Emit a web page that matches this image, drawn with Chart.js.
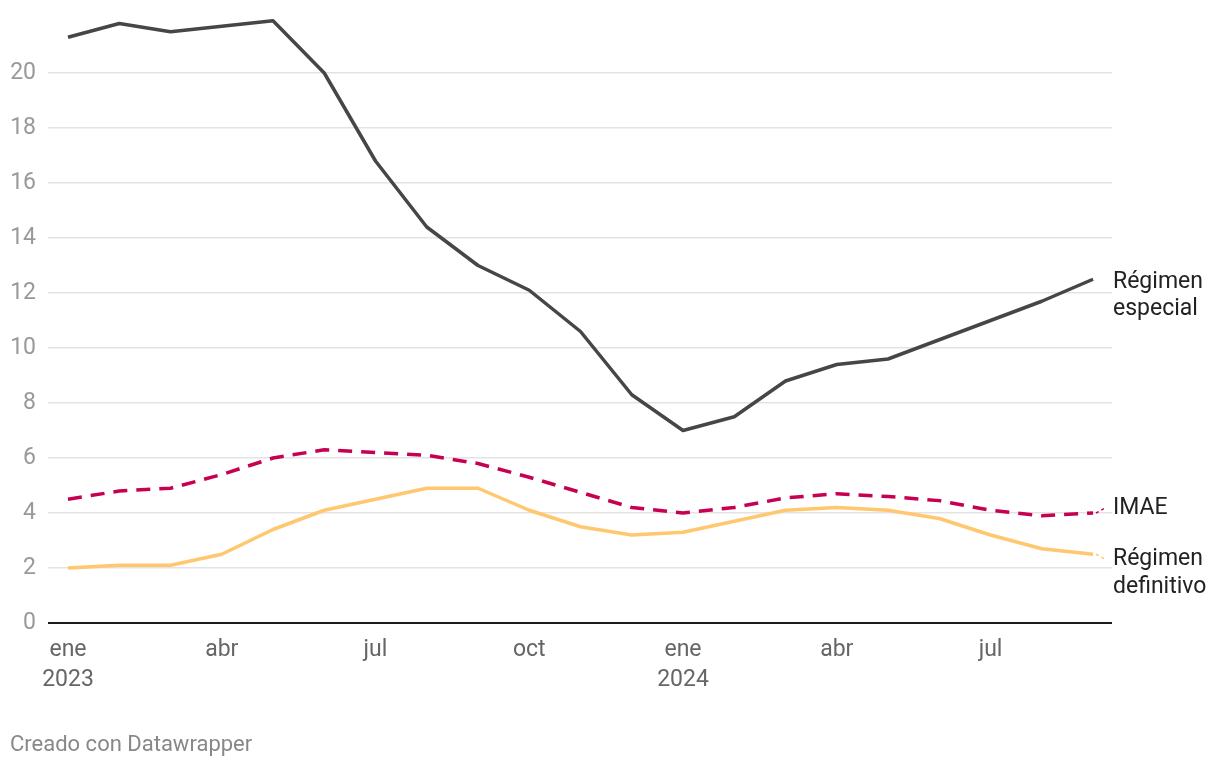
<!DOCTYPE html>
<html><head><meta charset="utf-8">
<script src="https://cdn.jsdelivr.net/npm/chart.js@4/dist/chart.umd.min.js"></script>
<style>html,body{margin:0;padding:0;background:#fff;}</style>
</head>
<body>
<div style="width:1220px;height:768px;position:relative;"><canvas id="c" width="1220" height="768"></canvas></div>
<script>
const months = ['ene 2023','feb','mar','abr','may','jun','jul','ago','sep','oct','nov','dic','ene 2024','feb','mar','abr','may','jun','jul','ago','sep'];
const especial = [21.3,21.8,21.5,21.7,21.9,20.0,16.8,14.4,13.0,12.1,10.6,8.3,7.0,7.5,8.8,9.4,9.6,10.3,11.0,11.7,12.5];
const imae = [4.5,4.8,4.9,5.4,6.0,6.3,6.2,6.1,5.8,5.3,4.75,4.2,4.0,4.2,4.55,4.7,4.6,4.45,4.1,3.9,4.0];
const definitivo = [2.0,2.1,2.1,2.5,3.4,4.1,4.5,4.9,4.9,4.1,3.5,3.2,3.3,3.7,4.1,4.2,4.1,3.8,3.2,2.7,2.5];
const xTickIdx = [0,3,6,9,12,15,18];
const xTickLabels = [['ene','2023'],'abr','jul','oct',['ene','2024'],'abr','jul'];
const yTickValues = [0,2,4,6,8,10,12,14,16,18,20];
const seriesNames = [['Régimen','especial'],['IMAE'],['Régimen','definitivo']];
const sourceText = 'Creado con Datawrapper';

const FONT = 'Roboto, "Noto Sans", sans-serif';
const toPts = arr => arr.map((v,i)=>({x:i,y:v}));

const labelPlugin = {
  id:'endLabels',
  afterDatasetsDraw(chart){
    const ctx = chart.ctx;
    const ys = chart.scales.y, xs = chart.scales.x;
    const last = months.length-1;
    const px = xs.getPixelForValue(last);
    ctx.save();
    ctx.font = '23px ' + FONT;
    ctx.fillStyle = '#222';
    ctx.textBaseline = 'middle';
    ctx.textAlign = 'left';
    const lx = chart.chartArea.right + 1;
    // especial
    let py = ys.getPixelForValue(especial[last]);
    ctx.fillText(seriesNames[0][0], lx, py+3);
    ctx.fillText(seriesNames[0][1], lx, py+30);
    // imae
    py = ys.getPixelForValue(imae[last]);
    ctx.fillText(seriesNames[1][0], lx, py-5);
    ctx.strokeStyle = '#c70052'; ctx.lineWidth = 1.5; ctx.setLineDash([3,3]);
    ctx.beginPath(); ctx.moveTo(px+3, py); ctx.lineTo(px+12, py-5); ctx.stroke();
    // definitivo
    py = ys.getPixelForValue(definitivo[last]);
    ctx.fillText(seriesNames[2][0], lx, py+5);
    ctx.fillText(seriesNames[2][1], lx, py+33);
    ctx.strokeStyle = '#ffc76e';
    ctx.beginPath(); ctx.moveTo(px+3, py); ctx.lineTo(px+12, py+5); ctx.stroke();
    ctx.setLineDash([]);
    // baseline
    const y0 = ys.getPixelForValue(0);
    ctx.strokeStyle = '#1a1a1a'; ctx.lineWidth = 2;
    ctx.beginPath(); ctx.moveTo(chart.chartArea.left, y0); ctx.lineTo(chart.chartArea.right, y0); ctx.stroke();
    // source
    ctx.font = '22px ' + FONT;
    ctx.fillStyle = '#888';
    ctx.fillText(sourceText, 10, 745);
    ctx.restore();
  }
};

new Chart(document.getElementById('c'), {
  type:'line',
  data:{
    datasets:[
      {label:'Régimen especial', data:toPts(especial), borderColor:'#464646', borderWidth:3.5, pointRadius:0, tension:0, clip:false, borderJoinStyle:'round'},
      {label:'IMAE', data:toPts(imae), borderColor:'#c70052', borderWidth:3.5, borderDash:[14,9], pointRadius:0, tension:0, clip:false, borderJoinStyle:'round'},
      {label:'Régimen definitivo', data:toPts(definitivo), borderColor:'#ffc76e', borderWidth:3.5, pointRadius:0, tension:0, clip:false, borderJoinStyle:'round'}
    ]
  },
  options:{
    responsive:false,
    animation:false,
    layout:{padding:{left:0,right:108,top:18,bottom:0}},
    plugins:{legend:{display:false},tooltip:{enabled:false}},
    scales:{
      x:{
        type:'linear', min:-0.39, max:20.37,
        afterBuildTicks(s){ s.ticks = xTickIdx.map(v=>({value:v})); },
        afterFit(s){ s.height = 145; s.paddingLeft = 0; s.paddingRight = 0; },
        grid:{display:false},
        border:{display:false},
        ticks:{
          autoSkip:false, maxRotation:0,
          padding:4,
          color:'#666',
          font:{family:FONT,size:23,lineHeight:1.3},
          callback:(v,i)=>xTickLabels[i]
        }
      },
      y:{
        min:0, max:22,
        afterBuildTicks(s){ s.ticks = yTickValues.map(v=>({value:v})); },
        afterFit(s){ s.width = 48; s.paddingTop = 0; s.paddingBottom = 0; },
        grid:{color:'#e3e3e3', lineWidth:1.5, drawTicks:false},
        border:{display:false},
        ticks:{padding:12, color:'#999', font:{family:FONT,size:23}}
      }
    }
  },
  plugins:[labelPlugin]
});
</script>
</body></html>
